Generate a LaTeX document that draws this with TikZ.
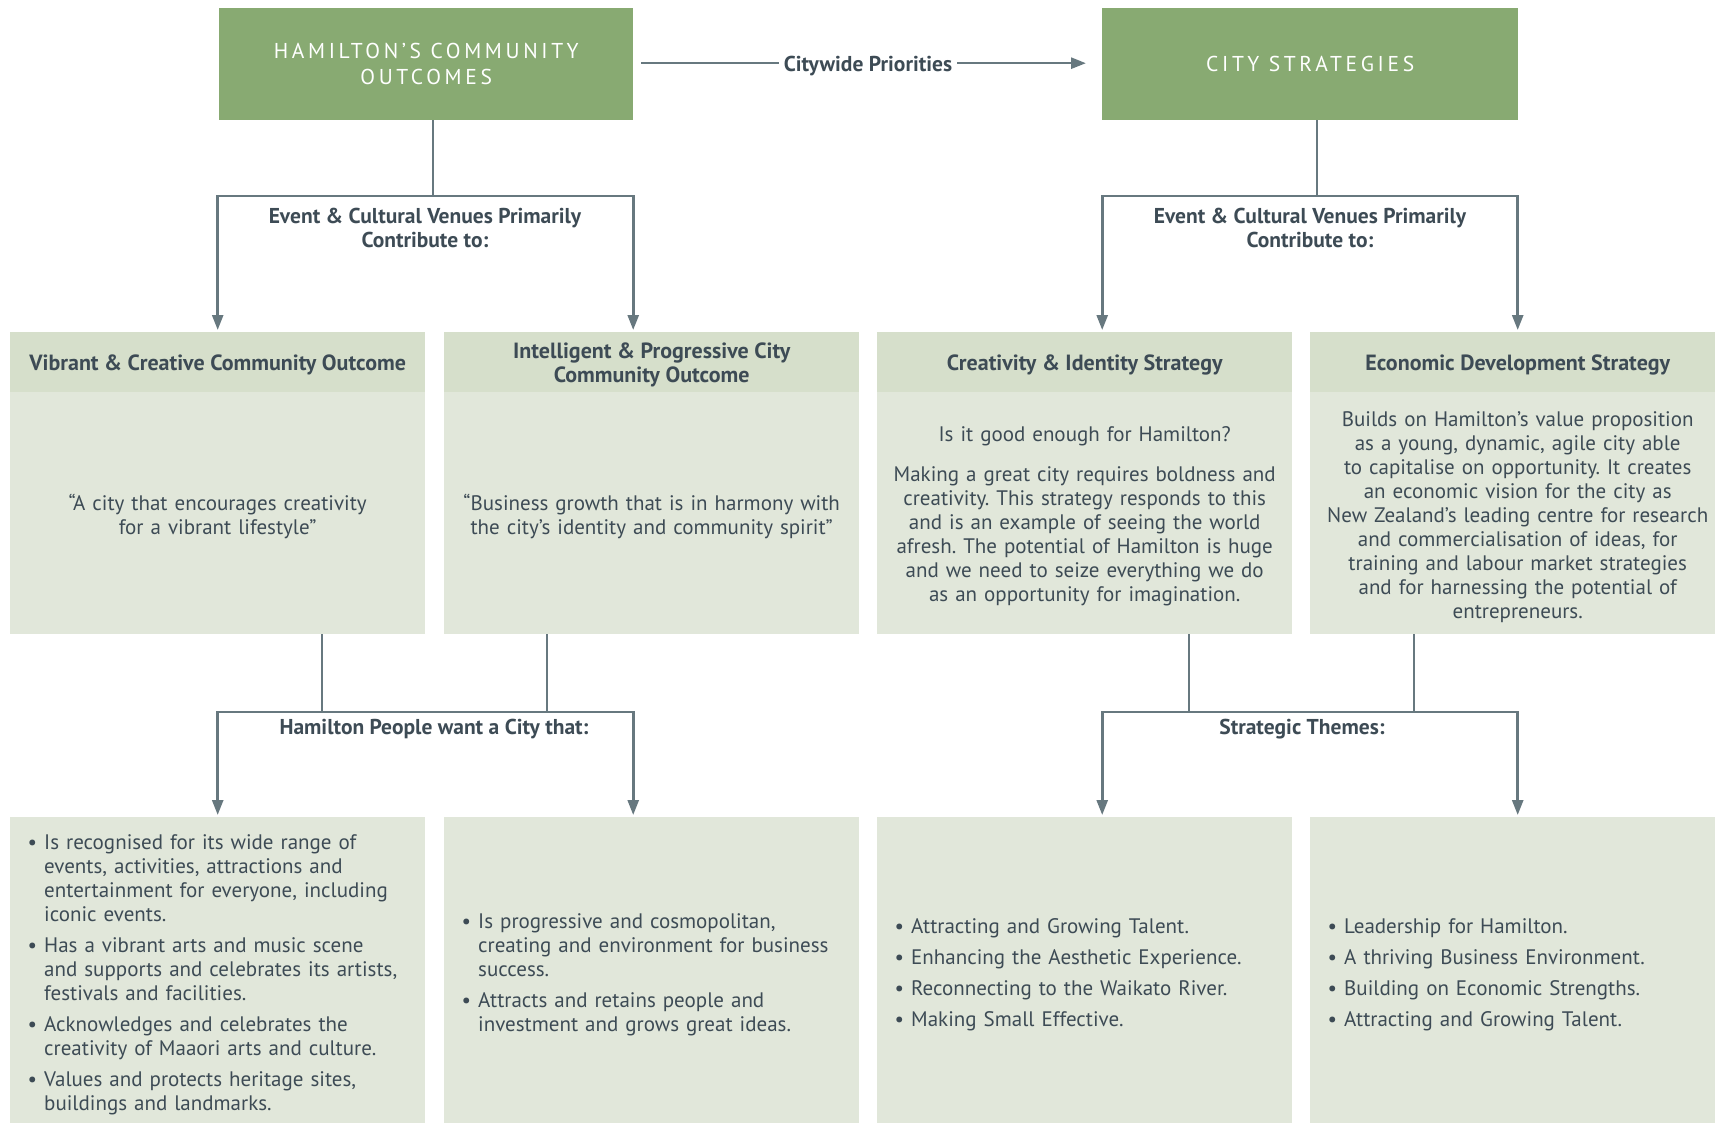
\documentclass[tikz,border=0pt]{standalone}
\usepackage{fontspec}
\setmainfont{PT Sans}
\newfontfamily\titlefont[LetterSpace=17]{PT Sans}
\usetikzlibrary{arrows.meta}
\definecolor{tgreen}{HTML}{88AA72}
\definecolor{hdr}{HTML}{D6DFCB}
\definecolor{bdy}{HTML}{E1E7DA}
\definecolor{txt}{HTML}{3D4B55}
\definecolor{lnc}{HTML}{67787F}
\frenchspacing
\newcommand{\bitem}[1]{\par\noindent\hangindent=16.5pt\hangafter=1\makebox[16.5pt][l]{\textbullet}#1\par}
\newcommand{\lowergap}{\par\vspace*{-7pt}}
\newcommand{\botgap}{\par\vspace*{7pt}}
\begin{document}
\frenchspacing
\begin{tikzpicture}[x=1pt,y=-1pt,
  ln/.style={draw=lnc, line width=2.6pt},
  arr/.style={ln, -{Triangle[length=15pt,width=11pt]}, shorten >=2pt},
  titlebox/.style={fill=tgreen, minimum width=414pt, minimum height=112pt, inner sep=0pt,
    anchor=north west, text=white, align=center, text depth=-1pt, font=\titlefont\fontsize{21.5}{26}\selectfont},
  hd/.style={fill=hdr, minimum width=415pt, minimum height=60pt, inner sep=0pt, anchor=north west,
    text=txt, align=center, text depth=-4pt, font=\bfseries\fontsize{22}{24}\selectfont},
  bd/.style={fill=bdy, minimum width=415pt, minimum height=242pt, inner xsep=6pt, inner ysep=0pt,
    text width=403pt, anchor=north west, text=txt, align=center,
    font=\frenchspacing\fontsize{21}{24}\selectfont},
  lst/.style={fill=bdy, minimum width=415pt, minimum height=306pt, inner xsep=17.5pt, inner ysep=0pt,
    text width=380pt, anchor=north west, text=txt, align=left,
    font=\frenchspacing\fontsize{21}{24}\selectfont\setlength{\parskip}{7pt}},
  lbl/.style={text=txt, align=center, font=\bfseries\fontsize{21.5}{24}\selectfont, inner sep=0pt}
]
\useasboundingbox (0,0) rectangle (1715,1123);

% title boxes
\node[titlebox] (t1) at (219,8) {HAMILTON’S COMMUNITY\\OUTCOMES};
\node[titlebox, minimum width=416pt] (t2) at (1102,8) {CITY STRATEGIES};

% citywide arrow
\draw[ln, -{Triangle[length=15pt,width=11pt]}] ([xshift=8pt,yshift=1pt]t1.east) -- ([xshift=-16pt,yshift=1pt]t2.west);
\node[lbl, fill=white, inner xsep=5pt, inner ysep=3pt] (cw) at (868,66) {Citywide Priorities};

% second row
\node[hd] (h1) at (10,332) {Vibrant \& Creative Community Outcome};
\node[hd] (h2) at (444,332) {Intelligent \& Progressive City\\Community Outcome};
\node[hd] (h3) at (877,332) {Creativity \& Identity Strategy};
\node[hd] (h4) at (1310,332) {Economic Development Strategy};

\node[bd] (b1) at (10,392) {“A city that encourages creativity\\for a vibrant lifestyle”\lowergap};
\node[bd] (b2) at (444,392) {“Business growth that is in harmony with\\the city’s identity and community spirit”\lowergap};
\node[bd] (b3) at (877,392) {Is it good enough for Hamilton?\par\vspace{16pt}
  Making a great city requires boldness and\\creativity. This strategy responds to this\\and is an example of seeing the world\\afresh. The potential of Hamilton is huge\\and we need to seize everything we do\\as an opportunity for imagination.\lowergap};
\node[bd] (b4) at (1310,392) {Builds on Hamilton’s value proposition\\as a young, dynamic, agile city able\\to capitalise on opportunity. It creates\\an economic vision for the city as\\New Zealand’s leading centre for research\\and commercialisation of ideas, for\\training and labour market strategies\\and for harnessing the potential of\\entrepreneurs.\lowergap};

% third row
\node[lst] (l1) at (10,817) {%
  \bitem{Is recognised for its wide range of\newline events, activities, attractions and\newline entertainment for everyone, including\newline iconic events.}%
  \bitem{Has a vibrant arts and music scene\newline and supports and celebrates its artists,\newline festivals and facilities.}%
  \bitem{Acknowledges and celebrates the\newline creativity of Maaori arts and culture.}%
  \bitem{Values and protects heritage sites,\newline buildings and landmarks.}\botgap};
\node[lst] (l2) at (444,817) {%
  \bitem{Is progressive and cosmopolitan,\newline creating and environment for business\newline success.}%
  \bitem{Attracts and retains people and\newline investment and grows great ideas.}\botgap};
\node[lst] (l3) at (877,817) {%
  \bitem{Attracting and Growing Talent.}%
  \bitem{Enhancing the Aesthetic Experience.}%
  \bitem{Reconnecting to the Waikato River.}%
  \bitem{Making Small Effective.}\botgap};
\node[lst] (l4) at (1310,817) {%
  \bitem{Leadership for Hamilton.}%
  \bitem{A thriving Business Environment.}%
  \bitem{Building on Economic Strengths.}%
  \bitem{Attracting and Growing Talent.}\botgap};

% connectors top -> second row
\coordinate (j1) at (433,196);
\coordinate (j2) at (1317,196);
\draw[ln] (t1.south -| j1) -- (j1);
\draw[arr] (j1) -| (h1.north);
\draw[arr] (j1) -| ([xshift=-18.5pt]h2.north);
\draw[ln] (t2.south -| j2) -- (j2);
\draw[arr] (j2) -| ([xshift=17.5pt]h3.north);
\draw[arr] (j2) -| (h4.north);
\node[lbl] (lab1) at (425,228) {Event \& Cultural Venues Primarily\\Contribute to:};
\node[lbl] (lab2) at (1310,228) {Event \& Cultural Venues Primarily\\Contribute to:};

% connectors second -> third row
\coordinate (s1) at (322,712);
\coordinate (s2) at (547,712);
\coordinate (s3) at (1189,712);
\coordinate (s4) at (1414,712);
\draw[ln] (b1.south -| s1) -- (s1) -- (s2) -- (b2.south -| s2);
\draw[arr] (s1) -| (l1.north);
\draw[arr] (s2) -| ([xshift=-18.5pt]l2.north);
\draw[ln] (b3.south -| s3) -- (s3) -- (s4) -- (b4.south -| s4);
\draw[arr] (s3) -| ([xshift=17.5pt]l3.north);
\draw[arr] (s4) -| (l4.north);
\node[lbl] (lab3) at (434,729) {Hamilton People want a City that:};
\node[lbl] (lab4) at (1302,729) {Strategic Themes:};
\end{tikzpicture}
\end{document}
